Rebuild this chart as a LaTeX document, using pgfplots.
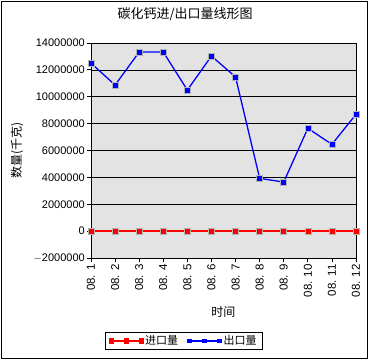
\documentclass[border=0pt]{standalone}
\usepackage{pgfplots}
\pgfplotsset{compat=1.18}
\usepackage{fontspec}
\setmainfont{Liberation Sans}
\newfontfamily\cjk{Noto Sans CJK SC}
\definecolor{plotbg}{RGB}{227,227,227}
\definecolor{mkedge}{RGB}{180,180,180}
\begin{document}
\begin{tikzpicture}[x=1pt,y=1pt]
\useasboundingbox (0,0) rectangle (370,360);
\draw[black,line width=1pt] (1.5,1.5) rectangle (367,358.5);
\begin{axis}[
  at={(91pt,102pt)}, anchor=south west,
  scale only axis, width=265pt, height=215pt,
  xmin=1, xmax=12, ymin=-2000000, ymax=14000000,
  ytick={-2000000,0,2000000,4000000,6000000,8000000,10000000,12000000,14000000},
  yticklabels={$-$2000000,0,2000000,4000000,6000000,8000000,10000000,12000000,14000000},
  xtick={1,...,12},
  xticklabels={08. 1,08. 2,08. 3,08. 4,08. 5,08. 6,08. 7,08. 8,08. 9,08. 10,08. 11,08. 12},
  x tick label style={rotate=90, anchor=east, font=\fontsize{11.5}{12}\selectfont, inner xsep=2pt},
  y tick label style={font=\fontsize{11}{12}\selectfont, inner xsep=2pt},
  /pgf/number format/assume math mode=true,
  scaled y ticks=false,
  tick align=outside, tick pos=left,
  major tick length=4pt,
  tick style={black, line width=0.8pt},
  axis line style={black, line width=0.8pt},
  axis background/.style={fill=plotbg},
  ymajorgrids, grid style={black, line width=0.6pt},
  title={\cjk 碳化钙进/出口量线形图},
  title style={at={(axis description cs:0.355,1.107)}, anchor=center, font=\fontsize{13}{15}\selectfont},
  xlabel={\cjk 时间},
  xlabel style={at={(axis description cs:0.5,-0.251)}, anchor=center, font=\fontsize{12}{14}\selectfont},
  ylabel={\cjk 数量(千克)},
  ylabel style={at={(axis description cs:-0.279,0.5)}, anchor=center, font=\fontsize{12}{14}\selectfont},
  legend columns=2,
  legend style={at={(axis description cs:0.351,-0.386)}, anchor=center, draw=black, line width=0.8pt,
    font=\fontsize{11}{12}\selectfont\cjk, /tikz/every even column/.append style={column sep=8pt},
    inner xsep=4pt, inner ysep=1.5pt},
  legend image code/.code={\draw[#1, mark options={scale=0.6}] plot coordinates {(0pt,0pt) (15pt,0pt) (30pt,0pt)};},
  clip=false,
]
\addplot[red, line width=1.8pt, mark=square*, mark size=3pt, mark options={fill=red, draw=mkedge, line width=0.6pt}]
  coordinates {(1,0) (2,0) (3,0) (4,0) (5,0) (6,0) (7,0) (8,0) (9,0) (10,0) (11,0) (12,0)};
\addlegendentry{进口量}
\addplot[blue, line width=1.3pt, mark=square*, mark size=3pt, mark options={fill=blue, draw=mkedge, line width=0.6pt}]
  coordinates {(1,12500000) (2,10870000) (3,13330000) (4,13330000) (5,10500000) (6,13030000)
  (7,11470000) (8,3930000) (9,3650000) (10,7650000) (11,6460000) (12,8690000)};
\addlegendentry{出口量}
\end{axis}
\end{tikzpicture}
\end{document}
